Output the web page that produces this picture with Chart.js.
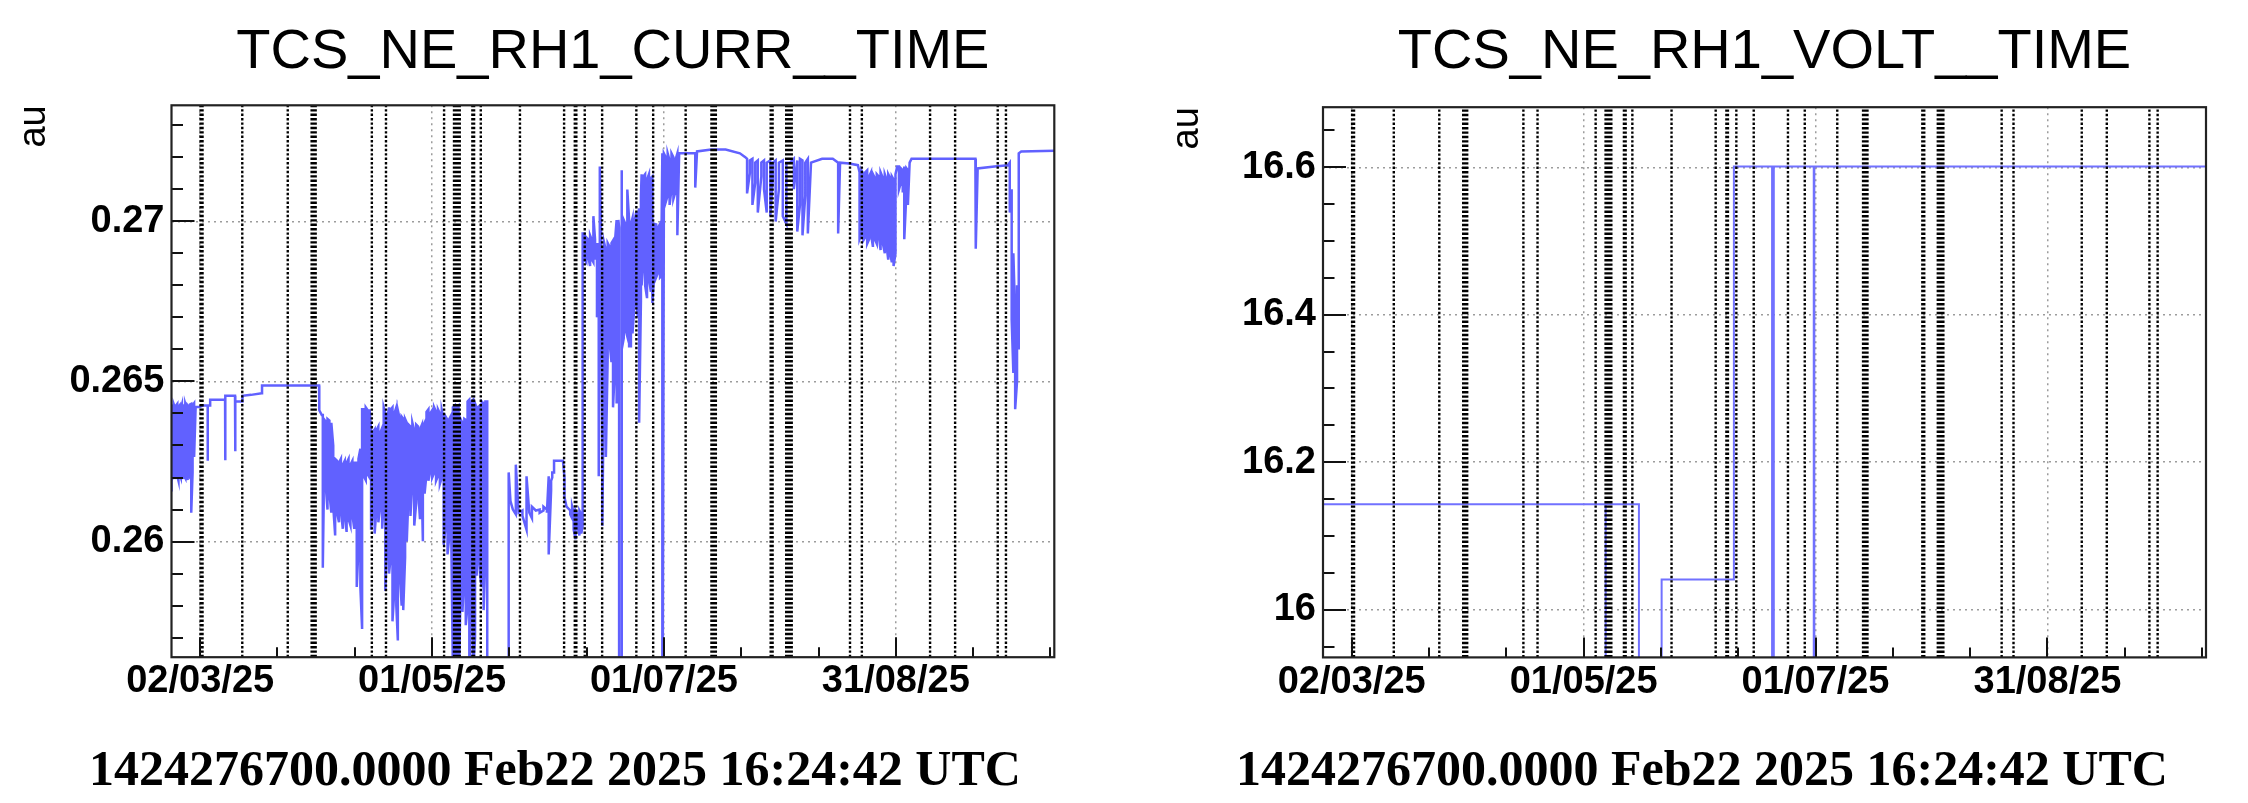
<!DOCTYPE html>
<html><head><meta charset="utf-8">
<script src="https://cdn.jsdelivr.net/npm/chart.js@4.4.1/dist/chart.umd.min.js"></script>
<style>
html,body{margin:0;padding:0;background:#fff;}
#wrap{position:relative;width:2248px;height:803px;overflow:hidden;background:#fff;}
canvas{position:absolute;top:0;}
#c1{left:0;}#c2{left:1124px;}
</style></head><body>
<div id="wrap"><canvas id="c1" width="1124" height="803"></canvas><canvas id="c2" width="1124" height="803"></canvas></div>
<script>
// ---------- shared x axis (days since 2025-01-01 00:00 UTC) ----------
const xMin = 52.684, xMax = 283.65;
const xTickValues = [60.19, 80.41, 100.63, 120.86, 141.08, 161.30, 181.52, 201.74, 221.97, 242.19, 262.41, 282.63];
const xMajorValues = [60.19, 120.86, 181.52, 242.19];
const xMajorLabels = ['02/03/25', '01/05/25', '01/07/25', '31/08/25'];

// vertical dotted event markers (days)
const eventDays = [60.30, 60.80, 71.2, 83.1, 89.35, 89.85, 90.4, 105.1, 108.8, 124.0, 126.6, 127.1, 127.6, 128.1,
  131.4, 131.85, 133.6, 143.85, 155.4, 158.2, 158.6, 160.8, 165.35, 174.3, 178.7, 187.2, 193.95, 194.5, 195.1,
  209.45, 209.95, 213.5, 214.0, 214.5, 214.95, 230.2, 233.3, 251.15, 257.7, 268.85, 271.0];

// ---------- TCS_NE_RH1_CURR__TIME ----------
const curTitle = 'TCS_NE_RH1_CURR__TIME';
const curYMin = 0.25639, curYMax = 0.27362;
const curYTicks = [0.257, 0.258, 0.259, 0.260, 0.261, 0.262, 0.263, 0.264, 0.265, 0.266, 0.267, 0.268, 0.269, 0.270, 0.271, 0.272, 0.273];
const curYMajor = [0.260, 0.265, 0.270];
const curYLabels = ['0.26', '0.265', '0.27'];
const curT = [
  52.70, 53.00, 53.30, 53.60, 53.90, 54.20, 54.50, 54.80, 55.10, 55.40, 55.70, 56.00, 56.30, 56.60, 56.90, 57.20, 57.50, 57.85, 58.20, 58.60, 59.00,
  60.00, 61.00, 62.15, 62.20, 62.80, 66.70, 66.74, 66.80, 69.30, 69.35, 69.42, 71.20, 71.25, 73.50, 76.30, 76.37, 91.30, 91.35, 92.00, 92.27,
  92.50, 93.00, 93.50, 94.00, 94.50,
  95.00, 95.50, 96.00, 96.50, 97.00, 97.50, 98.00, 98.50, 99.00, 99.50, 100.00, 100.50, 101.15, 101.60, 102.10, 102.55,
  103.00, 103.50, 104.00, 104.50, 104.90,
  105.30, 105.83, 106.30, 106.80, 107.30, 107.80, 108.20, 108.63, 109.10, 109.60, 110.10, 110.50, 111.00, 111.50, 111.90, 112.40, 112.90, 113.31, 113.80, 114.24,
  114.70, 115.20, 115.70, 116.20, 116.70, 117.20, 117.70, 118.20, 118.45, 118.90,
  119.40, 119.90, 120.40, 120.90, 121.40, 121.90, 122.40, 122.90, 123.40,
  123.90, 124.40, 124.90, 125.40, 125.90,
  126.30, 126.80, 127.30, 127.80,
  128.30, 128.80, 129.30, 129.67, 130.14,
  130.60, 131.10, 131.60, 132.10, 132.50, 132.90, 133.41, 133.88, 134.35, 134.80, 135.29, 135.76,
  140.90, 141.37, 142.00, 142.77, 143.50, 144.50, 145.57, 146.30, 146.98, 148.00, 149.00, 150.00, 150.90, 151.37, 152.00, 152.30, 152.77, 155.10, 155.50, 156.04,
  157.00, 157.50, 157.90, 158.40, 158.90, 159.40, 159.90, 160.25,
  160.70, 161.20, 161.70, 162.20, 162.70, 163.06, 163.50, 164.00, 164.46, 164.74, 165.10, 165.40, 165.90, 166.33, 166.80, 167.30, 167.80, 168.20, 168.67, 169.14, 169.60, 169.79, 170.35, 170.54,
  171.00, 171.50, 171.94, 172.41, 172.88, 173.30, 173.81, 174.28, 174.70, 175.03, 175.50, 175.68, 176.15, 176.60, 177.10, 177.60, 178.10, 178.49, 178.96, 179.50, 180.00, 180.50, 180.90, 181.10,
  181.50, 182.00, 182.50, 183.00, 183.50, 184.00, 184.50, 185.03, 185.50, 189.24, 189.71, 190.18, 193.90, 197.66, 201.40, 202.80,
  203.27, 204.00, 204.67, 205.40, 206.08, 207.00, 207.70, 208.41, 209.35, 210.00, 210.75, 211.60, 212.62, 213.56, 214.50, 215.50, 216.40, 217.10, 217.77, 218.50, 219.17, 220.00,
  222.90, 225.70, 227.10, 227.60, 230.00, 232.26,
  232.70, 233.20, 233.70, 234.20, 234.70, 235.20, 235.70, 236.20, 236.70, 237.20, 237.70, 238.20, 238.80, 239.30, 239.80, 240.20, 240.70, 241.15, 241.60, 242.10,
  242.55, 243.00, 243.50, 244.00, 244.40, 245.00, 245.35, 245.80, 246.30, 255.00, 263.00, 263.10, 263.60, 268.00, 271.50,
  272.00, 272.50, 272.94, 273.41, 273.90, 274.35, 275.00, 283.70
];
const curHi = [
  .26425, .26420, .26428, .26418, .26425, .26430, .26420, .26425, .26415, .26428, .26420, .26425, .26430, .26418, .26425, .26420, .26428, .26430, .26425, .26432, .26420,
  .26420, .26425, .26425, .26425, .26443, .26443, .26443, .26455, .26455, .26455, .26437, .26437, .26455, .26458, .26463, .26487, .26487, .26487, .26395, .26395,
  .26383, .26375, .26383, .26378, .26371,
  .26300, .26258, .26252, .26246, .26258, .26240, .26252, .26246, .26258, .26240, .26252, .26246, .26246, .26258, .26290, .26413,
  .26413, .26419, .26410, .26413, .26347,
  .26340, .26350, .26347, .26359, .26340, .26355, .26419, .26400, .26380, .26419, .26413, .26419, .26400, .26419, .26410, .26383, .26390, .26383, .26383, .26371,
  .26365, .26359, .26371, .26347, .26365, .26359, .26350, .26365, .26359, .26371,
  .26405, .26413, .26400, .26410, .26419, .26405, .26413, .26400, .26410,
  .26383, .26390, .26380, .26383, .26395,
  .26419, .26425, .26419, .26425,
  .26383, .26371, .26383, .26380, .26437,
  .26443, .26437, .26443, .26431, .26419, .26419, .26425, .26437, .26431, .26437, .26437, .25000,
  .26216, .26126, .26100, .26240, .26090, .26097, .26204, .26090, .26109, .26097, .26100, .26109, .26100, .26204, .26190, .26216, .26252, .26252, .26200, .26109,
  .26097, .26109, .26090, .26097, .26085, .26097, .26085, .26962,
  .26962, .26950, .26944, .26956, .26940, .27016, .26944, .26932, .26932, .27171, .26940, .26920, .26932, .26910, .26932, .26920, .26932, .26940, .26932, .27004, .27004, .26980, .27000, .27159,
  .27004, .26990, .27099, .27004, .26990, .27010, .27000, .27030, .27020, .27040, .27080, .27147, .27140, .27147, .27130, .27147, .27135, .27140, .26992, .26990, .26980, .26992, .26980, .27212,
  .27212, .27200, .27212, .27190, .27212, .27200, .27190, .27212, .27212, .27212, .27212, .27218, .27224, .27224, .27212, .27200,
  .27195, .27190, .27195, .27183, .27190, .27183, .27190, .27183, .27190, .27183, .27190, .27183, .27190, .27183, .27183, .27195, .27190, .27195, .27190, .27183, .27195, .27183,
  .27195, .27195, .27183, .27183, .27180, .27175,
  .27153, .27159, .27147, .27153, .27159, .27140, .27153, .27147, .27135, .27147, .27140, .27153, .27135, .27147, .27130, .27147, .27135, .27140, .27130, .27147,
  .27171, .27171, .27165, .27159, .27171, .27165, .27159, .27183, .27195, .27195, .27195, .27195, .27165, .27171, .27175,
  .27183, .27100, .26900, .26700, .26800, .27212, .27218, .27220
];
const curLo = [
  .26156, .26200, .26210, .26195, .26215, .26205, .26190, .26210, .26200, .26216, .26195, .26205, .26198, .26210, .26192, .26205, .26200, .26090, .26215, .26264, .26420,
  .26420, .26425, .26252, .26425, .26425, .26443, .26254, .26455, .26455, .26282, .26437, .26437, .26437, .26458, .26463, .26463, .26487, .26410, .26395, .25918,
  .26120, .26180, .26100, .26150, .26090,
  .26110, .26019, .26090, .26060, .26100, .26040, .26080, .26030, .26070, .26050, .26085, .26040, .25858, .25980, .25858, .25727,
  .26204, .26192, .26210, .26200, .26037,
  .26090, .26025, .26100, .26060, .26110, .26040, .26120, .25846, .26000, .25900, .25960, .25751, .25850, .25800, .25691, .25900, .25800, .25786, .25950, .26000,
  .26150, .26080, .26180, .26050, .26120, .26160, .26070, .26140, .26001, .26150,
  .26210, .26190, .26220, .26200, .26215, .26190, .26205, .26180, .26200,
  .25990, .26050, .25960, .26020, .25990,
  .25600, .25500, .25650, .25500,
  .25850, .25780, .25900, .25739, .25800,
  .25500, .25858, .25600, .25700, .25894, .25950, .25894, .25858, .25786, .25950, .25000, .25000,
  .25000, .26126, .26100, .26085, .26090, .26080, .26037, .26090, .26073, .26097, .26090, .26097, .26090, .25960, .26160, .26200, .26216, .26252, .26138, .26109,
  .26085, .26073, .26037, .26007, .26049, .26019, .26025, .26049,
  .26880, .26872, .26890, .26860, .26880, .26872, .26880, .26700, .26204, .26600, .26574, .26049, .26600, .26264, .26574, .26620, .26560, .26419, .26538, .26431, .26574, .25000, .25000, .26600,
  .26634, .26660, .26640, .26610, .26610, .26650, .26741, .26760, .26700, .26371, .26750, .26800, .26872, .26800, .26760, .26820, .26780, .26745, .26830, .26825, .26840, .26825, .26830, .25000,
  .27051, .27060, .27080, .27051, .27100, .27070, .27090, .26956, .27212, .27212, .27105, .27218, .27224, .27224, .27212, .27200,
  .27087, .27150, .27051, .27120, .27027, .27140, .27100, .27027, .27016, .27130, .26999, .27100, .27016, .26992, .27183, .27100, .26968, .27050, .26956, .27080, .26962, .27183,
  .27195, .27195, .26962, .27183, .27180, .27175,
  .26944, .26960, .26940, .26950, .26930, .26944, .26960, .26920, .26944, .26930, .26956, .26910, .26930, .26900, .26920, .26880, .26900, .26872, .26860, .26900,
  .27171, .27099, .27120, .27090, .26944, .27100, .27051, .27183, .27195, .27195, .27195, .26914, .27165, .27171, .27175,
  .27027, .26693, .26526, .26413, .26500, .26600, .27218, .27220
];

// ---------- TCS_NE_RH1_VOLT__TIME ----------
const voltTitle = 'TCS_NE_RH1_VOLT__TIME';
const voltYMin = 15.9353, voltYMax = 16.6815;
const voltYTicks = [15.95, 16.00, 16.05, 16.10, 16.15, 16.20, 16.25, 16.30, 16.35, 16.40, 16.45, 16.50, 16.55, 16.60, 16.65];
const voltYMajor = [16.0, 16.2, 16.4, 16.6];
const voltYLabels = ['16', '16.2', '16.4', '16.6'];
const voltT = [52.684, 126.60, 126.60, 126.66, 126.66, 135.32, 135.32, 141.26, 141.26, 160.16, 160.16, 170.15, 170.15, 170.60, 170.60, 181.05, 181.05, 181.20, 181.20, 283.65];
const voltV = [16.143, 16.143, 15.5, 15.5, 16.143, 16.143, 15.5, 15.5, 16.041, 16.041, 16.601, 16.601, 15.5, 15.5, 16.601, 16.601, 15.5, 15.5, 16.601, 16.601];

const footText = '1424276700.0000 Feb22 2025 16:24:42 UTC';

// ---------- helpers ----------
function near(v, arr) { return arr.findIndex(a => Math.abs(a - v) < 1e-6); }
function bandPoints(t, hi, lo) {
  const pts = []; let prev = null;
  for (let i = 0; i < t.length; i++) {
    if (hi[i] === lo[i]) { pts.push({x: t[i], y: hi[i]}); prev = hi[i]; continue; }
    const first = (prev === null || Math.abs(prev - lo[i]) <= Math.abs(prev - hi[i])) ? lo[i] : hi[i];
    const second = first === lo[i] ? hi[i] : lo[i];
    pts.push({x: t[i], y: first}, {x: t[i], y: second});
    prev = second;
  }
  return pts;
}
function linePoints(t, v) { return t.map((x, i) => ({x: x, y: v[i]})); }
function eventPoints(days, y0, y1) {
  const pts = [];
  days.forEach(d => { pts.push({x: d, y: y0}, {x: d, y: y1}, {x: d, y: null}); });
  return pts;
}

const rootDecor = {
  id: 'rootDecor',
  afterDraw(chart, args, o) {
    const ctx = chart.ctx, a = chart.chartArea;
    const xs = chart.scales.x, ys = chart.scales.y;
    ctx.save();
    ctx.strokeStyle = '#111'; ctx.lineWidth = 2;
    ctx.beginPath();
    xTickValues.forEach(v => {
      const px = Math.round(xs.getPixelForValue(v));
      const len = near(v, xMajorValues) >= 0 ? 20 : 10;
      ctx.moveTo(px, a.bottom); ctx.lineTo(px, a.bottom - len);
    });
    o.yTicks.forEach(v => {
      const py = Math.round(ys.getPixelForValue(v));
      const len = near(v, o.yMajor) >= 0 ? 23 : 11.5;
      ctx.moveTo(a.left, py); ctx.lineTo(a.left + len, py);
    });
    ctx.stroke();
    ctx.strokeStyle = '#222'; ctx.lineWidth = 2.2;
    ctx.strokeRect(a.left, a.top, a.right - a.left, a.bottom - a.top);
    // title
    ctx.fillStyle = '#000';
    ctx.font = '56px "Liberation Sans", Arial, sans-serif';
    ctx.textAlign = 'center'; ctx.textBaseline = 'alphabetic';
    ctx.fillText(o.title, (a.left + a.right) / 2, 68);
    // y axis title
    ctx.save();
    ctx.translate(o.auX, a.top);
    ctx.rotate(-Math.PI / 2);
    ctx.font = '38px "Liberation Sans", Arial, sans-serif';
    ctx.textAlign = 'right'; ctx.textBaseline = 'alphabetic';
    ctx.fillText('au', 0, 0);
    ctx.restore();
    // footer
    ctx.font = 'bold 50px "Liberation Serif", "Times New Roman", serif';
    ctx.textAlign = 'left'; ctx.textBaseline = 'alphabetic';
    ctx.fillText(footText, o.footX, 785);
    ctx.restore();
  }
};

function makeChart(id, cfg) {
  const gridColor = (majors) => (c) => (c.tick && near(c.tick.value, majors) >= 0) ? '#9c9c9c' : 'rgba(0,0,0,0)';
  return new Chart(document.getElementById(id), {
    type: 'line',
    data: {
      datasets: [
        { data: eventPoints(eventDays, cfg.yMin, cfg.yMax), borderColor: '#000', borderWidth: 2.4, borderDash: [2.4, 2],
          pointRadius: 0, spanGaps: false, order: 0, tension: 0 },
        { data: cfg.points, borderColor: cfg.color, borderWidth: cfg.width, pointRadius: 0, order: 1, tension: 0, spanGaps: true }
      ]
    },
    options: {
      responsive: false, animation: false, devicePixelRatio: 1, events: [],
      layout: { padding: { left: 0, top: cfg.top, right: cfg.padRight, bottom: 0 } },
      plugins: { legend: { display: false }, tooltip: { enabled: false }, title: { display: false },
        rootDecor: { title: cfg.title, yTicks: cfg.yTicks, yMajor: cfg.yMajor, auX: cfg.auX, footX: cfg.footX } },
      scales: {
        x: {
          type: 'linear', min: xMin, max: xMax,
          afterBuildTicks: s => { s.ticks = xTickValues.map(v => ({ value: v })); },
          afterFit: s => { s.height = cfg.xHeight; },
          grid: { color: gridColor(xMajorValues), lineWidth: 1.5, drawTicks: false },
          border: { display: false, dash: [2, 4] },
          ticks: { autoSkip: false, maxRotation: 0, minRotation: 0, padding: 2, color: '#000',
            font: { family: '"Liberation Sans", Arial, sans-serif', size: 38, weight: 'bold' },
            callback: v => { const i = near(v, xMajorValues); return i >= 0 ? xMajorLabels[i] : ''; } }
        },
        y: {
          type: 'linear', min: cfg.yMin, max: cfg.yMax,
          afterBuildTicks: s => { s.ticks = cfg.yTicks.map(v => ({ value: v })); },
          afterFit: s => { s.width = cfg.yWidth; },
          grid: { color: gridColor(cfg.yMajor), lineWidth: 1.5, drawTicks: false },
          border: { display: false, dash: [2, 4] },
          ticks: { autoSkip: false, padding: 7, color: '#000',
            font: { family: '"Liberation Sans", Arial, sans-serif', size: 38, weight: 'bold' },
            callback: v => { const i = near(v, cfg.yMajor); return i >= 0 ? cfg.yLabels[i] : ''; } }
        }
      }
    },
    plugins: [rootDecor]
  });
}

makeChart('c1', {
  title: curTitle, yMin: curYMin, yMax: curYMax, yTicks: curYTicks, yMajor: curYMajor, yLabels: curYLabels,
  points: bandPoints(curT, curHi, curLo), color: '#6161ff', width: 2.5,
  top: 105.3, padRight: 69.7, yWidth: 171.5, xHeight: 145.8, auX: 45, footX: 89
});
makeChart('c2', {
  title: voltTitle, yMin: voltYMin, yMax: voltYMax, yTicks: voltYTicks, yMajor: voltYMajor, yLabels: voltYLabels,
  points: linePoints(voltT, voltV), color: '#7171ff', width: 2,
  top: 107.2, padRight: 42, yWidth: 199, xHeight: 145.6, auX: 74, footX: 112
});
</script>
</body></html>
